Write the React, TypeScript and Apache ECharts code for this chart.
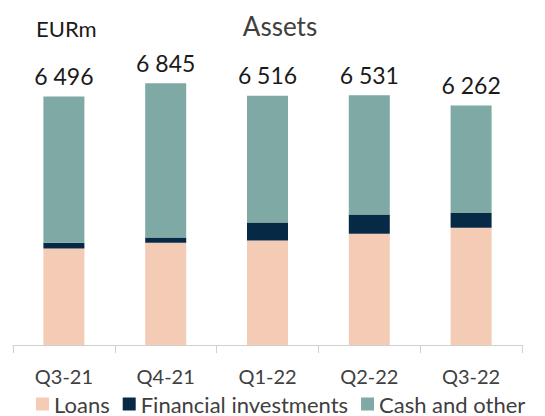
import React, { useEffect, useRef } from "react";
import * as echarts from "echarts";

const categories = ["Q3-21", "Q4-21", "Q1-22", "Q2-22", "Q3-22"];
const totals = [6496, 6845, 6516, 6531, 6262];
const loans = [2525, 2671, 2734, 2907, 3064];
const financialInvestments = [147, 141, 471, 508, 385];
const cashAndOther = totals.map((t, i) => t - loans[i] - financialInvestments[i]);

const FONT = "Lato";

function fmt(n: number): string {
  return String(n).replace(/\B(?=(\d{3})+(?!\d))/g, " ");
}

export default function App() {
  const ref = useRef<HTMLDivElement>(null);
  useEffect(() => {
    if (!ref.current) return;
    const chart = echarts.init(ref.current, null, { renderer: "svg" });
    chart.setOption({
      animation: false,
      textStyle: { fontFamily: FONT },
      title: [
        {
          text: "Assets",
          left: 275,
          top: 8,
          textAlign: "center",
          textStyle: { fontFamily: FONT, fontSize: 26, fontWeight: "normal", color: "#404040" },
        },
        {
          text: "EURm",
          left: 31,
          top: 12,
          textStyle: { fontFamily: FONT, fontSize: 22, fontWeight: "normal", color: "#1a1a1a" },
        },
      ],
      legend: {
        bottom: -4,
        left: 31,
        icon: "rect",
        itemWidth: 13,
        itemHeight: 13,
        itemGap: 13,
        textStyle: { fontFamily: FONT, fontSize: 22, color: "#404040" },
        data: ["Loans", "Financial investments", "Cash and other"],
      },
      grid: { left: 13, right: 23, top: 39, bottom: 71, containLabel: false },
      xAxis: {
        type: "category",
        data: categories,
        axisLine: { lineStyle: { color: "#d0d0d0", width: 1 } },
        axisTick: { show: true, length: 8, lineStyle: { color: "#d0d0d0" } },
        axisLabel: { fontFamily: FONT, fontSize: 20, color: "#404040", margin: 21 },
      },
      yAxis: {
        type: "value",
        min: 0,
        max: 8000,
        show: false,
        splitLine: { show: false },
      },
      series: [
        {
          name: "Loans",
          type: "bar",
          stack: "a",
          barWidth: 41,
          data: loans,
          itemStyle: { color: "#f4cbb5" },
        },
        {
          name: "Financial investments",
          type: "bar",
          stack: "a",
          barWidth: 41,
          data: financialInvestments,
          itemStyle: { color: "#062945" },
        },
        {
          name: "Cash and other",
          type: "bar",
          stack: "a",
          barWidth: 41,
          data: cashAndOther,
          itemStyle: { color: "#7fa9a4" },
          label: {
            show: true,
            position: "top",
            distance: 9,
            fontFamily: FONT,
            fontSize: 23,
            color: "#1a1a1a",
            formatter: (p: any) => fmt(totals[p.dataIndex]),
          },
        },
      ],
    });
    return () => chart.dispose();
  }, []);
  return <div ref={ref} style={{ width: 545, height: 416, position: "absolute", left: 0, top: 0 }} />;
}
